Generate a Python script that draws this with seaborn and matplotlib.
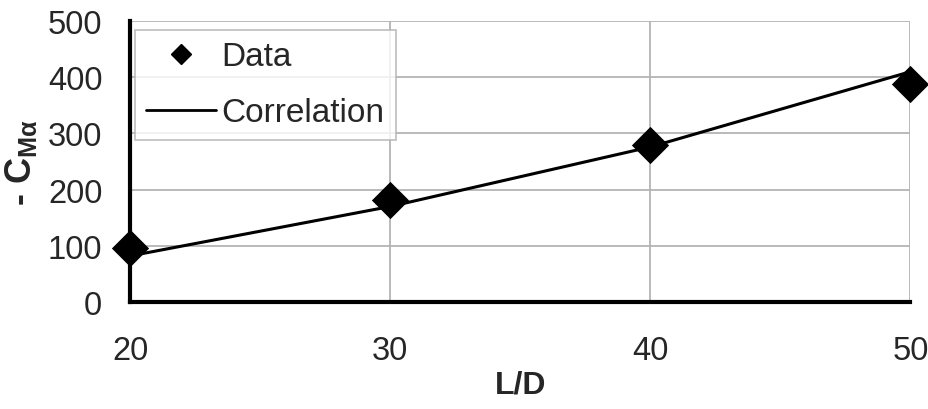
import pandas as pd
import matplotlib
matplotlib.use("Agg")
import matplotlib.pyplot as plt
import seaborn as sns
from matplotlib.lines import Line2D

# Data
ld_data = [20, 30, 40, 50]
cma_data = [97, 181, 279, 388]

ld_corr = [20, 30, 40, 50]
cma_corr = [82, 170, 276, 410]

x_ticks = [20, 30, 40, 50]
y_ticks = [0, 100, 200, 300, 400, 500]

data_df = pd.DataFrame({"L/D": ld_data, "CMa": cma_data})
corr_df = pd.DataFrame({"L/D": ld_corr, "CMa": cma_corr})

sns.set_style("white")
plt.rcParams["font.family"] = ["Liberation Sans", "DejaVu Sans"]
plt.rcParams["mathtext.fontset"] = "custom"
plt.rcParams["mathtext.rm"] = "Liberation Sans"
plt.rcParams["mathtext.bf"] = "Liberation Sans:bold"
plt.rcParams["mathtext.it"] = "Liberation Sans:italic"

fig = plt.figure(figsize=(9.29, 4.10), dpi=100)
ax = fig.add_axes([0.140, 0.261, 0.840, 0.685])

sns.lineplot(data=corr_df, x="L/D", y="CMa", color="black", linewidth=2.2, ax=ax)
sns.scatterplot(data=data_df, x="L/D", y="CMa", marker="D", s=360, color="black",
                edgecolor="black", linewidth=0, ax=ax, zorder=3, clip_on=False)

ax.set_xlim(20, 50)
ax.set_ylim(0, 500)
ax.set_xticks(x_ticks)
ax.set_yticks(y_ticks)
ax.tick_params(axis="both", length=0, labelsize=23.5)
ax.tick_params(axis="x", pad=24)
ax.tick_params(axis="y", pad=20)

ax.grid(True, color="#b4b4b4", linewidth=1.3)
for side in ["top", "right"]:
    ax.spines[side].set_visible(False)
for side in ["left", "bottom"]:
    ax.spines[side].set_color("black")
    ax.spines[side].set_linewidth(3)

ax.set_xlabel("L/D", fontsize=23, fontweight="bold", labelpad=2)
ax.set_ylabel(r"- $\mathbf{C}_{\mathbf{M\alpha}}$", fontsize=26, fontweight="bold", labelpad=6)

handles = [
    Line2D([], [], marker="D", color="black", linestyle="none", markersize=10),
    Line2D([], [], color="black", linewidth=2),
]
leg = ax.legend(handles, ["Data", "Correlation"], loc="upper left",
                bbox_to_anchor=(0.006, 0.97), fontsize=24, frameon=True,
                fancybox=False, edgecolor="#b4b4b4", handlelength=2.1,
                handletextpad=0.15, borderpad=0.35, borderaxespad=0,
                labelspacing=0.75)
leg.get_frame().set_linewidth(1.3)

plt.savefig("out.png", dpi=100)
